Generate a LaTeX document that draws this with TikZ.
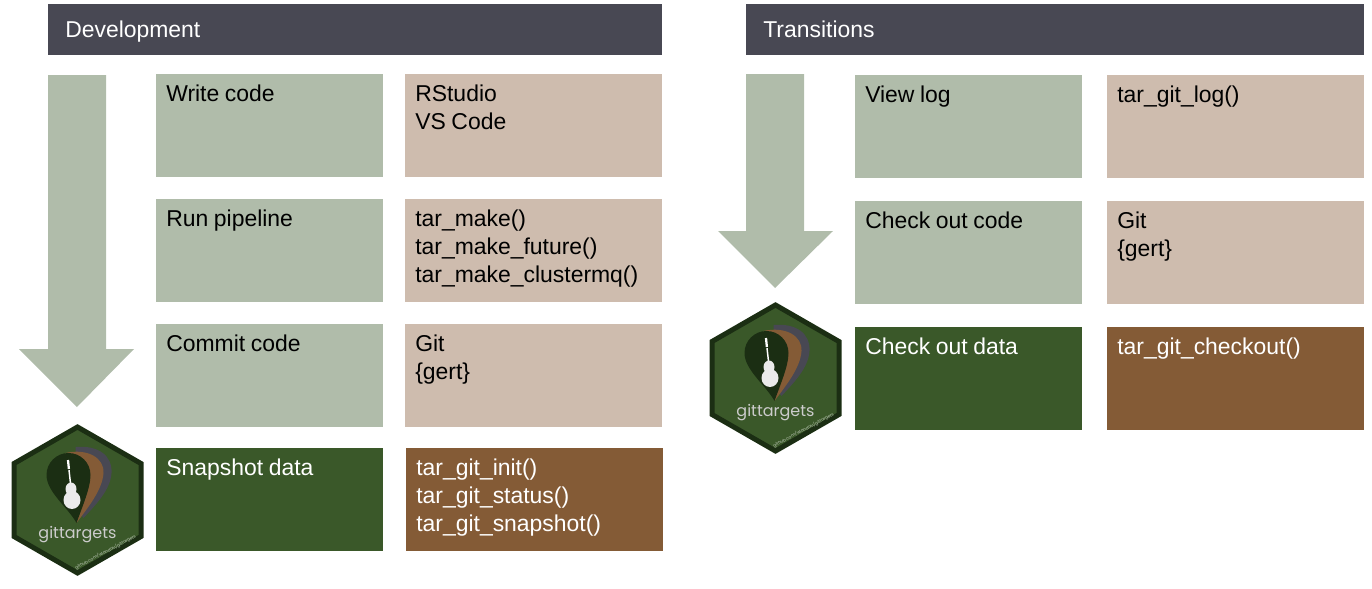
\documentclass[tikz,border=0pt]{standalone}
\usepackage{fontspec}
\setmainfont{Liberation Sans}
\newfontfamily\logofont{Poppins}
\usepackage{xcolor}
\definecolor{slatehead}{HTML}{484853}
\definecolor{sagebox}{HTML}{B0BCAA}
\definecolor{tanbox}{HTML}{CEBCAE}
\definecolor{forestbox}{HTML}{3A5829}
\definecolor{brownbox}{HTML}{845B36}
\definecolor{darkpin}{HTML}{1B2E13}
\newcommand{\celltext}[1]{\parbox[t][77.25pt][t]{\linewidth}{\vspace*{8.25pt}\baselineskip=21pt \spaceskip=0.245em #1}}
\tikzset{
  header/.style={fill=slatehead,text=white,anchor=west,inner sep=0pt,inner xsep=12.75pt,minimum height=38.25pt,text depth=0pt,font=\fontsize{17.2}{21}\selectfont,align=left},
  cell/.style={anchor=north west,inner xsep=7.5pt,inner ysep=0pt,align=left,font=\fontsize{17.2}{21}\selectfont},
  wide/.style={cell,text width=155.25pt},
  wider/.style={cell,text width=177.75pt},
  sagecell/.style={wide,fill=sagebox,text=black},
  tancell/.style={wider,fill=tanbox,text=black},
  forestcell/.style={wide,fill=forestbox,text=white},
  browncell/.style={wider,fill=brownbox,text=white},
  flow/.style={fill=sagebox},
  gitlogo/.pic={
    \draw [fill=forestbox,draw=darkpin,line width=3.75pt,miter limit=10] (0,-73)--(63.5,-36.5)--(63.5,36.5)--(0,73)--(-63.5,36.5)--(-63.5,-36.5)--cycle;
    \fill [slatehead] (-2,-53) .. controls (20,-55) and (35,-45) .. (34,-27) .. controls (33,-10) and (18,5) .. (6,18) -- (0,10) -- cycle;
    \fill [brownbox] (-12,-47) .. controls (10,-52) and (27,-42) .. (26,-27) .. controls (25,-10) and (10,8) .. (-1,23) -- (-5,10) -- cycle;
    \fill [darkpin] (-31,-25) arc (180:360:22) .. controls (13,-12) and (5,6) .. (-1,23) .. controls (-9,8) and (-31,-8) .. (-31,-25) -- cycle;
    \draw [white,line width=1.1pt] (-8.5,-30)--(-6.7,-14);
    \draw [white,line width=1.7pt] (-9.5,-40)--(-8.6,-31);
    \fill [white!92!black] (-6.5,-11) ellipse (5.5 and 6.5);
    \fill [white!92!black] (-5.5,0) ellipse (8.5 and 9);
    \node (#1name) [text=white!80!black,inner sep=0pt,font=\logofont\fontsize{12}{14}\selectfont] at (0,35) {gittargets};
    \node (#1url) [text=white!65!forestbox,inner sep=0pt,rotate=28,font=\logofont\fontsize{3.2}{4}\selectfont] at (28,52) {github.com/wlandau/gittargets};
  }
}
\begin{document}
\begin{tikzpicture}[x=0.75pt,y=-0.75pt]
\useasboundingbox (0,0) rectangle (1372,589);
\node (devhead) [header,text width=435pt] at (48,29.5) {Development};
\node (transhead) [header,text width=438pt] at (746,29.5) {Transitions};
% left arrow
\fill [flow] (48,75)--(106,75)--(106,349)--(134,349)--(77,407)--(19,349)--(48,349)--cycle;
% right arrow
\fill [flow] (746,74)--(804,74)--(804,231)--(833,231)--(775,288)--(718,231)--(746,231)--cycle;
% development
\node (write) [sagecell] at (156,74) {\celltext{Write code}};
\node (editors) [tancell] at (405,74) {\celltext{RStudio\\VS Code}};
\node (run) [sagecell] at (156,199) {\celltext{Run pipeline}};
\node (make) [tancell] at (405,199) {\celltext{tar\_make()\\tar\_make\_future()\\tar\_make\_clustermq()}};
\node (commit) [sagecell] at (156,324) {\celltext{Commit code}};
\node (gitleft) [tancell] at (405,324) {\celltext{Git\\\{gert\}}};
\node (snapshot) [forestcell] at (156,448) {\celltext{Snapshot data}};
\node (snapfuns) [browncell] at (406,448) {\celltext{tar\_git\_init()\\tar\_git\_status()\\tar\_git\_snapshot()}};
% transitions
\node (viewlog) [sagecell] at (855,75) {\celltext{View log}};
\node (logfun) [tancell] at (1107,75) {\celltext{tar\_git\_log()}};
\node (checkcode) [sagecell] at (855,201) {\celltext{Check out code}};
\node (gitright) [tancell] at (1107,201) {\celltext{Git\\\{gert\}}};
\node (checkdata) [forestcell] at (855,327) {\celltext{Check out data}};
\node (checkfun) [browncell] at (1107,327) {\celltext{tar\_git\_checkout()}};
% logos
\pic (logoa) at (77.5,500) {gitlogo};
\pic (logob) at (775.5,378) {gitlogo};
\end{tikzpicture}
\end{document}
